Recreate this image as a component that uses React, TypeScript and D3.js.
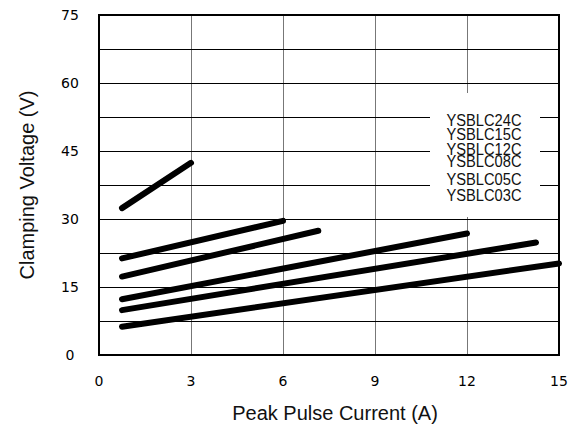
import React from 'react';
import * as d3 from 'd3';

// device names, top curve first
const devices = ["YSBLC24C", "YSBLC15C", "YSBLC12C", "YSBLC08C", "YSBLC05C", "YSBLC03C"];
// each curve is a straight segment from (startA, startV) to (endA, endV)
const startA = [0.75, 0.75, 0.75, 0.75, 0.75, 0.75];
const startV = [32.4, 21.3, 17.3, 12.3, 9.9, 6.25];
const endA = [3, 6, 7.15, 12, 14.25, 15];
const endV = [42.4, 29.6, 27.4, 26.8, 24.8, 20.2];

const xTicks = [0, 3, 6, 9, 12, 15];
const yTicks = [0, 15, 30, 45, 60, 75];
const yGrid = [7.5, 15, 22.5, 30, 37.5, 45, 52.5, 60, 67.5];

const W = 578;
const H = 428;
const plot = { left: 99, right: 559, top: 15, bottom: 355 };
// legend rows are not evenly spaced in the original
const legendRowY = [126, 139.5, 154.5, 167, 184.5, 200.5];

// snap a 1px line onto the pixel grid so it stays crisp
const crisp = (v: number) => Math.round(v) + 0.5;

const App = () => {
    const x = d3.scaleLinear().domain([0, 15]).range([plot.left, plot.right]);
    const y = d3.scaleLinear().domain([0, 75]).range([plot.bottom, plot.top]);

    const line = d3.line<[number, number]>()
        .x(d => x(d[0]))
        .y(d => y(d[1]));

    const sans = "'Liberation Sans', Arial, sans-serif";
    const tickFont = "'DejaVu Sans', sans-serif";

    return (
        <svg width={W} height={H} style={{ position: 'absolute', left: 0, top: 0 }}>
            <rect x={0} y={0} width={W} height={H} fill="#fff" />

            {/* vertical grid */}
            {xTicks.slice(1, -1).map(t => (
                <line key={'vx' + t} x1={crisp(x(t))} x2={crisp(x(t))} y1={plot.top} y2={plot.bottom}
                    stroke="#777" strokeWidth={1} />
            ))}
            {/* horizontal grid */}
            {yGrid.map(t => (
                <line key={'hy' + t} x1={plot.left} x2={plot.right} y1={crisp(y(t))} y2={crisp(y(t))}
                    stroke="#000" strokeWidth={1} />
            ))}

            {/* legend block sits on top of the grid */}
            <rect x={430} y={93} width={110} height={124} fill="#fff" />
            {devices.map((d, i) => (
                <text key={d} x={484} y={legendRowY[i]} textAnchor="middle" fontFamily={sans}
                    fontSize={16} textLength={75} lengthAdjust="spacingAndGlyphs" fill="#111">
                    {d}
                </text>
            ))}

            {/* curves */}
            {devices.map((d, i) => (
                <path key={'c' + d}
                    d={line([[startA[i], startV[i]], [endA[i], endV[i]]]) || ''}
                    fill="none" stroke="#000" strokeWidth={6} strokeLinecap="round" />
            ))}

            {/* frame */}
            <rect x={plot.left} y={plot.top} width={plot.right - plot.left} height={plot.bottom - plot.top}
                fill="none" stroke="#000" strokeWidth={2} />

            {/* tick labels */}
            {xTicks.map(t => (
                <text key={'xt' + t} x={x(t)} y={386} textAnchor="middle" fontFamily={tickFont}
                    fontSize={14} fill="#000">{t}</text>
            ))}
            {yTicks.map(t => (
                <text key={'yt' + t} x={70} y={y(t) + 5} textAnchor="middle" fontFamily={tickFont}
                    fontSize={14} fill="#000">{t}</text>
            ))}

            {/* axis titles */}
            <text x={335} y={420} textAnchor="middle" fontFamily={sans} fontSize={20} fill="#111">
                Peak Pulse Current (A)
            </text>
            <text transform={`translate(34,${(plot.top + plot.bottom) / 2}) rotate(-90)`}
                textAnchor="middle" fontFamily={sans} fontSize={20} fill="#111">
                Clamping Voltage (V)
            </text>
        </svg>
    );
};

export default App;
